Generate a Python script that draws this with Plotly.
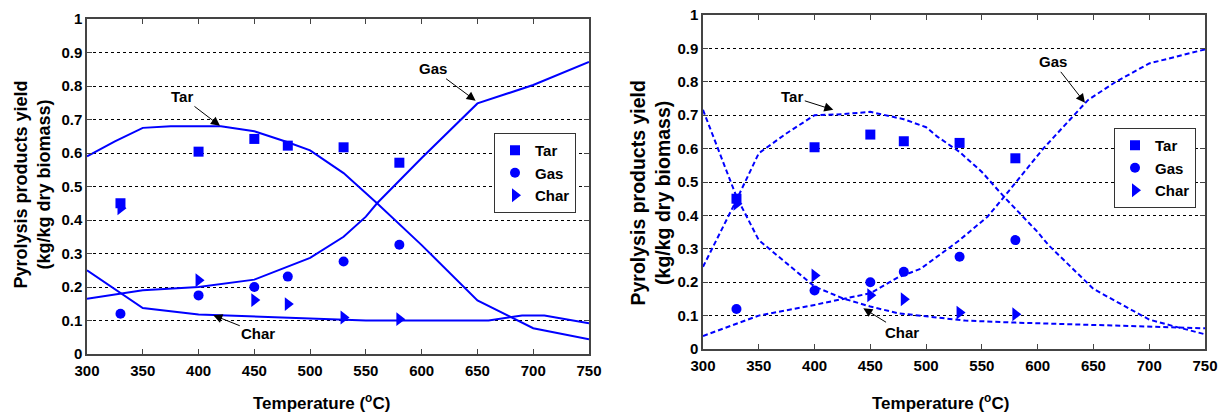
import plotly.graph_objects as go

# ---------------- data ----------------
# Experimental points (same in both panels)
exp_T = [330, 400, 450, 480, 530, 580]
exp_tar = [0.45, 0.604, 0.642, 0.622, 0.617, 0.571]
exp_gas = [0.12, 0.175, 0.2, 0.231, 0.276, 0.326]
exp_char = [0.435, 0.22, 0.161, 0.149, 0.109, 0.104]

# Left panel model curves (solid)
L_tar_T = [300, 325, 350, 375, 420, 450, 480, 500, 530, 560, 600, 650, 700, 750]
L_tar_Y = [0.59, 0.635, 0.675, 0.68, 0.68, 0.665, 0.632, 0.608, 0.54, 0.45, 0.325, 0.16, 0.077, 0.044]
L_gas_T = [300, 350, 400, 450, 500, 530, 550, 560, 600, 650, 700, 750]
L_gas_Y = [0.165, 0.19, 0.2, 0.222, 0.287, 0.35, 0.41, 0.45, 0.585, 0.748, 0.803, 0.872]
L_char_T = [300, 350, 400, 450, 500, 550, 660, 690, 710, 750]
L_char_Y = [0.25, 0.137, 0.118, 0.112, 0.106, 0.1, 0.1, 0.115, 0.115, 0.092]

# Right panel model curves (dashed)
R_tar_T = [300, 330, 350, 375, 400, 425, 450, 480, 500, 510, 530, 550, 570, 600, 610, 650, 670, 700, 720, 750]
R_tar_Y = [0.246, 0.446, 0.586, 0.646, 0.70, 0.703, 0.71, 0.688, 0.664, 0.636, 0.59, 0.53, 0.455, 0.35, 0.31, 0.18, 0.143, 0.088, 0.07, 0.044]
R_gas_T = [300, 350, 400, 450, 475, 495, 530, 555, 570, 605, 645, 670, 700, 725, 750]
R_gas_Y = [0.039, 0.1, 0.132, 0.167, 0.215, 0.24, 0.326, 0.396, 0.456, 0.6, 0.745, 0.8, 0.855, 0.875, 0.897]
R_char_T = [300, 330, 350, 375, 400, 425, 450, 475, 505, 535, 580, 650, 700, 750]
R_char_Y = [0.716, 0.456, 0.326, 0.256, 0.187, 0.152, 0.127, 0.107, 0.097, 0.085, 0.079, 0.072, 0.065, 0.062]

series_names = ["Tar", "Gas", "Char"]
y_ticks = [0, 0.1, 0.2, 0.3, 0.4, 0.5, 0.6, 0.7, 0.8, 0.9, 1]
x_ticks = [300, 350, 400, 450, 500, 550, 600, 650, 700, 750]

# ---------------- figure ----------------
W, H = 1223, 414
BLUE = "rgb(0,0,255)"
FONT = "Liberation Sans"

fig = go.Figure()

# left lines
for T, Y in [(L_tar_T, L_tar_Y), (L_gas_T, L_gas_Y), (L_char_T, L_char_Y)]:
    fig.add_trace(go.Scatter(x=T, y=Y, mode="lines", line=dict(color=BLUE, width=2),
                             showlegend=False, xaxis="x", yaxis="y", hoverinfo="skip"))
# right lines
for T, Y in [(R_tar_T, R_tar_Y), (R_gas_T, R_gas_Y), (R_char_T, R_char_Y)]:
    fig.add_trace(go.Scatter(x=T, y=Y, mode="lines", line=dict(color=BLUE, width=2, dash="5px,3px"),
                             showlegend=False, xaxis="x2", yaxis="y2", hoverinfo="skip"))

symbols = ["square", "circle", "triangle-right"]
sizes = [10, 10, 12]
exp_vals = [exp_tar, exp_gas, exp_char]

for ax, leg in [("", "legend"), ("2", "legend2")]:
    for name, sym, sz, vals in zip(series_names, symbols, sizes, exp_vals):
        fig.add_trace(go.Scatter(x=exp_T, y=vals, mode="markers", name=name,
                                 marker=dict(symbol=sym, size=sz, color=BLUE),
                                 xaxis="x" + ax, yaxis="y" + ax, legend=leg))

axis_common = dict(
    showline=True, linecolor="#444", linewidth=1.5, mirror="ticks",
    ticks="inside", ticklen=5, tickcolor="#444",
    tickfont=dict(family=FONT, size=15, color="black", weight="bold"),
    zeroline=False, automargin=False,
)

xdom1 = [87 / W, 589 / W]
xdom2 = [703 / W, 1205 / W]
ydom1 = [1 - 354 / H, 1 - 19 / H]
ydom2 = [1 - 349 / H, 1 - 15 / H]

fig.update_layout(
    width=W, height=H,
    margin=dict(l=0, r=0, t=0, b=0, autoexpand=False),
    paper_bgcolor="white", plot_bgcolor="white",
    xaxis=dict(domain=xdom1, range=[300, 750], tickvals=x_ticks, showgrid=False, anchor="y",
               ticklabelstandoff=2, **axis_common),
    yaxis=dict(domain=ydom1, range=[0, 1], tickvals=y_ticks, showgrid=True, gridcolor="black",
               griddash="3px,3px", gridwidth=1, anchor="x", **axis_common),
    xaxis2=dict(domain=xdom2, range=[300, 750], tickvals=x_ticks, showgrid=False, anchor="y2",
                ticklabelstandoff=2, **axis_common),
    yaxis2=dict(domain=ydom2, range=[0, 1], tickvals=y_ticks, showgrid=True, gridcolor="black",
                griddash="3px,3px", gridwidth=1, anchor="x2", **axis_common),
    legend=dict(x=494 / W, y=1 - 133 / H, xanchor="left", yanchor="top", bgcolor="white",
                bordercolor="#333", borderwidth=1, tracegroupgap=0,
                font=dict(family=FONT, size=15, color="black", weight="bold")),
    legend2=dict(x=1114 / W, y=1 - 128 / H, xanchor="left", yanchor="top", bgcolor="white",
                 bordercolor="#333", borderwidth=1, tracegroupgap=0,
                 font=dict(family=FONT, size=15, color="black", weight="bold")),
)

ann_font = dict(family=FONT, size=15, color="black", weight="bold")
arrows = [
    ("x", "y", "Tar", 419.2, 0.681, -38, -29),
    ("x", "y", "Gas", 648.4, 0.756, -43, -32),
    ("x", "y", "Char", 413.2, 0.116, 45, 18),
    ("x2", "y2", "Tar", 416.8, 0.716, -41, -13),
    ("x2", "y2", "Gas", 642.4, 0.737, -32, -41),
    ("x2", "y2", "Char", 443.7, 0.122, 39, 24),
]
for xr, yr, txt, x, y, ax, ay in arrows:
    fig.add_annotation(xref=xr, yref=yr, x=x, y=y, text=txt, showarrow=True,
                       ax=ax, ay=ay, arrowhead=2, arrowsize=1.8, arrowwidth=1,
                       arrowcolor="black", font=ann_font)

# axis titles
title_font = dict(family=FONT, size=17, color="black", weight="bold")
for cx in [321.5, 940.5]:
    fig.add_annotation(xref="paper", yref="paper", x=cx / W, y=1 - 401.7 / H,
                       text="Temperature (<sup>o</sup>C)", showarrow=False,
                       xanchor="center", yanchor="middle", font=title_font)
for cx, cy, fs in [(31.5, 185, 18), (649.5, 193, 19.5)]:
    fig.add_annotation(xref="paper", yref="paper", x=cx / W, y=1 - cy / H,
                       text="Pyrolysis products yield<br>(kg/kg dry biomass)", showarrow=False,
                       textangle=-90, xanchor="center", yanchor="middle",
                       font=dict(family=FONT, size=fs, color="black", weight="bold"))

fig.write_html("out.html", config={"displayModeBar": False},
               post_script="document.body.style.margin='0';document.body.style.overflow='hidden';")
